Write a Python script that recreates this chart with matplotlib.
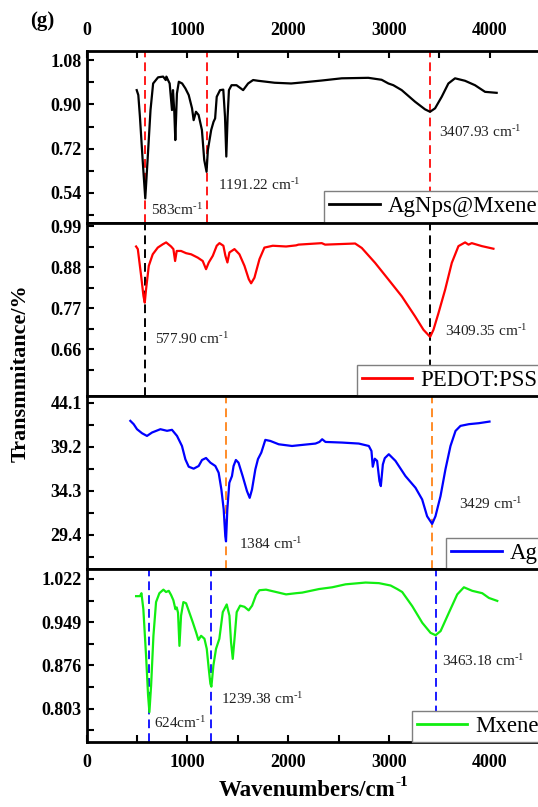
import matplotlib
matplotlib.use('Agg')
import matplotlib.pyplot as plt
from matplotlib.ticker import FixedLocator

plt.rcParams['font.family'] = 'Liberation Serif'
plt.rcParams['mathtext.fontset'] = 'custom'
plt.rcParams['mathtext.rm'] = 'Liberation Serif'
plt.rcParams['mathtext.bf'] = 'Liberation Serif:bold'
plt.rcParams['mathtext.it'] = 'Liberation Serif:italic'

# ---- data (wavenumber in cm-1, transmittance) ----
wn_agmx = [498, 514, 530, 557, 583, 606, 635, 661, 710, 760, 786, 792, 825, 848, 858, 871, 881, 897,
           916, 949, 981, 1014, 1047, 1063, 1086, 1112, 1145, 1168, 1191, 1204, 1237, 1260, 1276, 1292,
           1325, 1357, 1374, 1387, 1400, 1413, 1439, 1488, 1554, 1603, 1653, 1702, 1866, 2030,
           2135, 2333, 2532, 2796, 2928, 2995, 3044, 3127, 3259, 3358, 3408, 3458, 3524, 3590, 3656,
           3755, 3854, 3954, 4069]
t_agmx = [0.958, 0.938, 0.85, 0.674, 0.518, 0.674, 0.877, 0.985, 1.010, 1.013, 0.999, 1.013, 0.985, 0.877,
          0.958, 0.87, 0.755, 0.944, 0.992, 0.985, 0.965, 0.938, 0.884, 0.836, 0.87, 0.857, 0.796, 0.674,
          0.626, 0.714, 0.796, 0.829, 0.843, 0.931, 0.958, 0.96, 0.85, 0.688, 0.85, 0.958, 0.978, 0.978,
          0.958, 0.985, 0.999, 0.996, 0.988, 0.985,
          0.989, 0.997, 1.006, 1.008, 1.0, 0.985, 0.978, 0.958, 0.911, 0.880, 0.870, 0.884, 0.931, 0.985,
          1.006, 0.996, 0.978, 0.951, 0.947]

wn_pedot = [492, 509, 542, 565, 578, 591, 618, 657, 707, 757, 790, 839, 862, 879, 895, 938, 988, 1038,
            1104, 1153, 1186, 1213, 1253, 1292, 1319, 1358, 1378, 1398, 1418, 1468, 1517, 1567, 1610,
            1633, 1666, 1716, 1765, 1848, 1980, 2079,
            2103, 2334, 2367, 2665, 2731, 2863, 2996, 3128, 3260, 3343, 3409, 3442, 3492, 3558, 3624,
            3690, 3756, 3790, 3822, 3922, 4037]
t_pedot = [0.936, 0.929, 0.857, 0.803, 0.785, 0.821, 0.884, 0.915, 0.933, 0.942, 0.947, 0.936, 0.929,
           0.897, 0.924, 0.924, 0.918, 0.915, 0.906, 0.897, 0.875, 0.893, 0.911, 0.938, 0.945, 0.938,
           0.911, 0.893, 0.920, 0.929, 0.915, 0.884, 0.848, 0.837, 0.852, 0.902, 0.933, 0.938, 0.936,
           0.939,
           0.941, 0.945, 0.941, 0.944, 0.932, 0.892, 0.847, 0.802, 0.748, 0.712, 0.693, 0.712, 0.757,
           0.820, 0.892, 0.937, 0.947, 0.941, 0.945, 0.937, 0.930]

wn_ag = [435, 468, 501, 551, 600, 650, 733, 799, 848, 898, 947, 981, 1014, 1063, 1113, 1146, 1186, 1229,
         1278, 1311, 1338, 1361, 1377, 1384, 1397, 1417, 1443, 1459, 1482, 1508, 1549, 1592, 1619,
         1642, 1675, 1701, 1734, 1774, 1824, 1907, 2039,
         2106, 2272, 2311, 2338, 2371, 2536, 2701, 2801, 2827, 2840, 2860, 2883, 2906, 2920, 2940,
         2959, 2999, 3065, 3164, 3264, 3330, 3379, 3429, 3462, 3512, 3561, 3611, 3661, 3710, 3793,
         3892, 3998]
t_ag = [42.08, 41.71, 41.15, 40.70, 40.40, 40.78, 41.15, 40.97, 41.08, 40.40, 39.28, 37.79, 36.97, 36.75,
        37.05, 37.72, 37.94, 37.42, 37.05, 36.30, 34.44, 32.20, 29.21, 28.65, 32.20, 35.18, 35.92, 37.05,
        37.72, 37.42, 35.93, 34.25, 33.50, 34.44, 36.67, 37.82, 38.54, 39.96, 39.84, 39.47, 39.28,
        39.36, 39.55, 39.73, 40.03, 39.73, 39.66, 39.55, 39.28, 38.72, 36.97, 37.86, 37.62, 35.37, 34.81,
        37.22, 37.92, 38.36, 37.62, 35.93, 34.62, 33.32, 31.45, 30.60, 31.45, 33.69, 36.68, 39.28, 40.96,
        41.52, 41.71, 41.82, 42.0]

wn_mx = [492, 531, 545, 564, 591, 611, 624, 641, 664, 690, 723, 763, 789, 816, 839, 862, 882, 895, 908,
         922, 938, 961, 988, 1021, 1054, 1087, 1110, 1137, 1170, 1193, 1213, 1229, 1239, 1259, 1285,
         1318, 1352, 1391, 1418, 1434, 1451, 1471, 1490, 1524, 1567, 1609, 1643, 1682, 1715, 1781,
         1881, 1980, 2079,
         2140, 2306, 2438, 2570, 2769, 2901, 3017, 3083, 3132, 3232, 3331, 3413, 3463, 3513, 3595,
         3678, 3744, 3827, 3926, 3992, 4075]
t_mx = [0.993, 0.993, 0.998, 0.971, 0.892, 0.825, 0.797, 0.842, 0.926, 0.983, 0.998, 1.004, 1.0, 1.002,
        0.995, 0.986, 0.971, 0.974, 0.965, 0.909, 0.960, 0.983, 0.981, 0.965, 0.949, 0.932, 0.919, 0.926,
        0.921, 0.904, 0.870, 0.845, 0.840, 0.876, 0.904, 0.921, 0.966, 0.979, 0.960, 0.915, 0.887, 0.926,
        0.966, 0.977, 0.975, 0.969, 0.977, 0.995, 1.003, 1.004, 1.0, 0.996, 0.998,
        0.999, 1.005, 1.008, 1.013, 1.016, 1.015, 1.011, 1.005, 1.0, 0.976, 0.948, 0.931, 0.927, 0.934,
        0.965, 0.996, 1.008, 1.002, 0.998, 0.990, 0.985]

labels = ['AgNps@Mxene', 'PEDOT:PSS', 'Ag', 'Mxene']

# marked peaks and their labels (superscript written with a plain hyphen, as in the figure)
SUP = r'$^{\text{-1}}$'
peaks_agmx = [583, 1191.22, 3407.93]
peak_text_agmx = ['583cm' + SUP, '1191.22 cm' + SUP, '3407.93 cm' + SUP]
peaks_pedot = [577.90, 3409.35]
peak_text_pedot = ['577.90 cm' + SUP, '3409.35 cm' + SUP]
peaks_ag = [1384, 3429]
peak_text_ag = ['1384 cm' + SUP, '3429 cm' + SUP]
peaks_mx = [624, 1239.38, 3463.18]
peak_text_mx = ['624cm' + SUP, '1239.38 cm' + SUP, '3463.18 cm' + SUP]

yticks_agmx = [0.54, 0.72, 0.90, 1.08]
yticks_pedot = [0.66, 0.77, 0.88, 0.99]
yticks_ag = [29.4, 34.3, 39.2, 44.1]
yticks_mx = [0.803, 0.876, 0.949, 1.022]
ytick_labels = [['0.54', '0.72', '0.90', '1.08'], ['0.66', '0.77', '0.88', '0.99'],
                ['29.4', '34.3', '39.2', '44.1'], ['0.803', '0.876', '0.949', '1.022']]


def main():
    W, H = 538, 807
    fig = plt.figure(figsize=(W / 100, H / 100), dpi=100)

    x0 = 86.5
    xw = 453.6
    edges = [51, 222.5, 396, 569, 742]

    panels = [
        (wn_agmx, t_agmx, 'black', '#ff1a1a', peaks_agmx, peak_text_agmx,
         [(636, 0.450), (1307, 0.552), (3497, 0.766)], (0.42, 1.117), yticks_agmx, 0.524),
        (wn_pedot, t_pedot, '#ff0000', 'black', peaks_pedot, peak_text_pedot,
         [(684, 0.675), (3558, 0.696)], (0.534, 1.0005), yticks_pedot, 0.596),
        (wn_ag, t_ag, '#0000ff', '#ff8c28', peaks_ag, peak_text_ag,
         [(1516, 27.84), (3694, 32.22)], (25.57, 44.85), yticks_ag, 0.793),
        (wn_mx, t_mx, '#11ee11', '#1a1aff', peaks_mx, peak_text_mx,
         [(674, 0.770), (1332, 0.811), (3529, 0.875)], (0.7465, 1.0389), yticks_mx, 0.717),
    ]

    for i, (wn, t, col, dcol, peaks, ptxt, tpos, ylim, yt, legx) in enumerate(panels):
        top, bot = edges[i], edges[i + 1]
        ax = fig.add_axes([x0 / W, 1 - bot / H, xw / W, (bot - top) / H])
        ax.plot(wn, t, color=col, lw=1.6, label=labels[i], zorder=3)
        for p in peaks:
            ax.axvline(p, color=dcol, lw=1.4, ls=(0, (4.5, 2.6)), zorder=2)
        for (tx, ty), s in zip(tpos, ptxt):
            ax.text(tx, ty, s, fontsize=11, ha='left', va='baseline', color='#222222')
        ax.set_xlim(0, 4500)
        ax.set_ylim(*ylim)

        step = yt[1] - yt[0]
        minor = [v - step / 2 for v in yt] + [yt[-1] + step / 2]
        ax.yaxis.set_major_locator(FixedLocator(yt))
        ax.yaxis.set_minor_locator(FixedLocator(minor))
        ax.set_yticklabels(ytick_labels[i], fontsize=13, fontweight='bold')
        ax.tick_params(axis='y', which='both', direction='in', length=5, width=1.5, pad=3.5)

        ax.xaxis.set_major_locator(FixedLocator([0, 1000, 2000, 3000, 4000]))
        ax.xaxis.set_minor_locator(FixedLocator([500, 1500, 2500, 3500]))
        if i == 0:
            ax.tick_params(axis='x', which='both', direction='in', length=5, width=1.5,
                           top=True, bottom=False, labeltop=True, labelbottom=False, pad=8.5)
            ax.set_xticklabels(['0', '1000', '2000', '3000', '4000'], fontsize=13, fontweight='bold')
        elif i == 3:
            ax.tick_params(axis='x', which='both', direction='in', length=5, width=1.5,
                           top=False, bottom=True, labelbottom=True, pad=8.5)
            ax.set_xticklabels(['0', '1000', '2000', '3000', '4000'], fontsize=13, fontweight='bold')
        else:
            ax.tick_params(axis='x', which='both', bottom=False, top=False,
                           labelbottom=False, labeltop=False)

        for sp in ax.spines.values():
            sp.set_linewidth(2.0)

        leg = ax.legend(loc='lower left', bbox_to_anchor=(legx, 0), borderaxespad=0,
                        fontsize=16.5, handlelength=2.2, handletextpad=0.35, borderpad=0.22,
                        fancybox=False, framealpha=1, edgecolor='#7f7f7f')
        leg.get_frame().set_linewidth(1.0)
        for ln in leg.get_lines():
            ln.set_linewidth(2.0)

    fig.text(21 / W, 1 - 373 / H, 'Transmmitance/%', rotation=90, fontsize=16,
             fontweight='bold', ha='center', va='center')

    # x label: bold text plus a small bold "-1" superscript placed right after it
    xl = fig.text(307 / W, 1 - 796 / H, 'Wavenumbers/cm', fontsize=16.5,
                  fontweight='bold', ha='center', va='baseline')
    r = fig.canvas.get_renderer()
    bb = xl.get_window_extent(renderer=r)
    fig.text((bb.x1 + 0.5) / W, 1 - 786 / H, '-1', fontsize=11, fontweight='bold',
             ha='left', va='baseline')

    fig.text(42 / W, 1 - 21 / H, '(g)', fontsize=15, fontweight='bold', ha='center', va='center')

    fig.savefig('out.png', dpi=100)


if __name__ == '__main__':
    main()
